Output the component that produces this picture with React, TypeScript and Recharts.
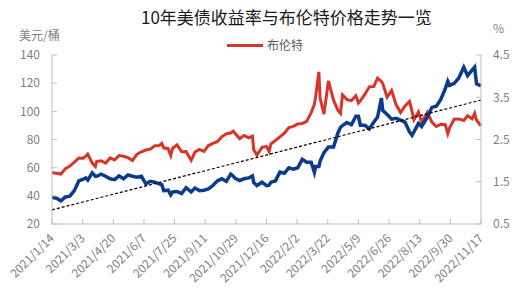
import React from 'react';
import { LineChart, Line, XAxis, YAxis } from 'recharts';

// 日期 / 布伦特(美元/桶) / 10年美债收益率(%)
const dates = [
  '2021-01-14', '2021-01-21', '2021-01-28', '2021-02-04', '2021-02-11', '2021-02-18', '2021-02-25',
  '2021-03-04', '2021-03-08', '2021-03-11', '2021-03-18', '2021-03-23', '2021-03-25', '2021-04-01',
  '2021-04-08', '2021-04-15', '2021-04-22', '2021-04-29', '2021-05-06', '2021-05-13', '2021-05-20',
  '2021-05-27', '2021-06-03', '2021-06-10', '2021-06-17', '2021-06-24', '2021-07-01', '2021-07-05',
  '2021-07-08', '2021-07-15', '2021-07-19', '2021-07-22', '2021-07-29', '2021-08-05', '2021-08-12',
  '2021-08-20', '2021-08-26', '2021-09-02', '2021-09-09', '2021-09-16', '2021-09-23', '2021-09-30',
  '2021-10-07', '2021-10-14', '2021-10-21', '2021-10-25', '2021-10-28', '2021-11-04', '2021-11-11',
  '2021-11-18', '2021-11-24', '2021-11-26', '2021-12-01', '2021-12-09', '2021-12-16', '2021-12-20',
  '2021-12-23', '2021-12-30', '2022-01-06', '2022-01-13', '2022-01-20', '2022-01-27', '2022-02-03',
  '2022-02-10', '2022-02-17', '2022-02-24', '2022-03-01', '2022-03-03', '2022-03-08', '2022-03-10',
  '2022-03-16', '2022-03-23', '2022-03-31', '2022-04-07', '2022-04-11', '2022-04-14', '2022-04-21',
  '2022-04-28', '2022-05-05', '2022-05-09', '2022-05-12', '2022-05-19', '2022-05-26', '2022-06-02',
  '2022-06-08', '2022-06-14', '2022-06-16', '2022-06-23', '2022-06-30', '2022-07-07', '2022-07-14',
  '2022-07-21', '2022-07-28', '2022-08-01', '2022-08-04', '2022-08-11', '2022-08-16', '2022-08-25',
  '2022-09-01', '2022-09-08', '2022-09-15', '2022-09-22', '2022-09-26', '2022-09-29', '2022-10-06',
  '2022-10-13', '2022-10-21', '2022-10-27', '2022-11-03', '2022-11-07', '2022-11-10', '2022-11-17',
];

const brent = [
  56.4, 56.1, 55.5, 59.3, 61.1, 63.9, 66.9,
  66.7, 68.2, 69.6, 63.3, 60.8, 64.4, 64.9,
  63.2, 66.9, 65.4, 68.6, 68.1, 67.1, 65.1,
  69.5, 71.3, 72.5, 73.1, 75.6, 75.8, 77.2,
  74.1, 73.5, 68.6, 73.8, 76.1, 71.3, 71.4,
  65.2, 71.1, 73.0, 71.5, 75.7, 77.3, 78.5,
  81.9, 84.0, 84.6, 86.0, 84.3, 80.5, 82.9,
  81.2, 82.3, 72.7, 68.9, 74.4, 75.0, 71.5,
  76.9, 79.3, 81.9, 84.5, 88.4, 89.3, 91.1,
  91.4, 92.9, 99.1, 105.0, 110.5, 128.0, 109.3,
  98.0, 121.6, 107.9, 100.6, 98.5, 111.7, 108.3,
  107.6, 111.0, 105.9, 107.5, 112.0, 117.4, 117.6,
  123.6, 121.2, 119.8, 110.1, 114.8, 104.7, 99.1,
  103.9, 107.1, 100.0, 94.1, 99.6, 92.3, 99.3,
  92.4, 89.2, 90.8, 90.5, 84.1, 88.5, 94.4,
  94.6, 93.5, 96.9, 94.7, 98.6, 93.7, 89.8,
];

const yields = [
  1.13, 1.11, 1.05, 1.14, 1.16, 1.29, 1.52,
  1.56, 1.59, 1.54, 1.71, 1.63, 1.63, 1.68,
  1.63, 1.57, 1.55, 1.64, 1.57, 1.66, 1.63,
  1.61, 1.63, 1.45, 1.51, 1.49, 1.45, 1.43,
  1.29, 1.30, 1.19, 1.26, 1.27, 1.22, 1.36,
  1.26, 1.35, 1.29, 1.30, 1.33, 1.41, 1.52,
  1.57, 1.51, 1.68, 1.63, 1.58, 1.53, 1.57,
  1.59, 1.64, 1.48, 1.41, 1.49, 1.41, 1.42,
  1.49, 1.52, 1.73, 1.70, 1.83, 1.80, 1.83,
  2.03, 1.96, 1.96, 1.72, 1.86, 1.86, 1.99,
  2.19, 2.32, 2.32, 2.66, 2.79, 2.83, 2.90,
  2.85, 3.05, 3.05, 2.84, 2.84, 2.75, 2.91,
  3.03, 3.48, 3.19, 3.09, 2.98, 3.00, 2.96,
  2.91, 2.68, 2.60, 2.68, 2.88, 2.81, 3.03,
  3.26, 3.29, 3.45, 3.70, 3.88, 3.78, 3.83,
  3.95, 4.21, 4.01, 4.14, 4.21, 3.82, 3.77,
];

// 虚线趋势
const trendDates = ['2021-01-14', '2022-11-17'];
const trendValues = [30, 108];

const tickLabels = [
  '2021/1/14', '2021/3/3', '2021/4/20', '2021/6/7', '2021/7/25', '2021/9/11', '2021/10/29',
  '2021/12/16', '2022/2/2', '2022/3/22', '2022/5/9', '2022/6/26', '2022/8/13', '2022/9/30', '2022/11/17',
];

const leftTicks = [20, 40, 60, 80, 100, 120, 140];
const rightTicks = [0.5, 1.5, 2.5, 3.5, 4.5];

const toDay = (s: string) => {
  const [y, m, d] = s.split(/[-/]/).map(Number);
  return Math.round((Date.UTC(y, m - 1, d) - Date.UTC(2021, 0, 14)) / 86400000);
};

const data = dates.map((d, i) => ({ day: toDay(d), brent: brent[i], yield: yields[i] }));
const trendData = trendDates.map((d, i) => ({ day: toDay(d), trend: trendValues[i] }));
const xTicks = tickLabels.map(toDay);
const labelByDay: Record<number, string> = {};
tickLabels.forEach((l) => { labelByDay[toDay(l)] = l; });

const FONT = '"Noto Sans CJK SC", "Noto Sans", sans-serif';
const GRAY = '#7f7f7f';
const AXIS = '#bfbfbf';

const DateTick = (props: any) => {
  const { x, y, payload } = props;
  return (
    <g transform={`translate(${x + 3},${y})`}>
      <text textAnchor="end" transform="rotate(-45)" fill={GRAY} fontSize={12} fontFamily={FONT}>
        {labelByDay[payload.value]}
      </text>
    </g>
  );
};

export default function App() {
  return (
    <div style={{ position: 'absolute', left: 0, top: 0, width: 522, height: 294, background: '#fff', fontFamily: FONT }}>
      <div style={{ position: 'absolute', left: 141, top: 8, fontSize: 17, lineHeight: 1, color: '#1a1a1a', whiteSpace: 'nowrap' }}>
        10年美债收益率与布伦特价格走势一览
      </div>
      <div style={{ position: 'absolute', left: 19, top: 29, fontSize: 12, lineHeight: 1, color: GRAY }}>美元/桶</div>
      <div style={{ position: 'absolute', left: 493, top: 22, fontSize: 12, lineHeight: 1, color: GRAY }}>%</div>
      <div style={{ position: 'absolute', left: 227, top: 44, width: 36, height: 3, background: '#d7342a' }} />
      <div style={{ position: 'absolute', left: 267, top: 39, fontSize: 12, lineHeight: 1, color: '#595959' }}>布伦特</div>

      <LineChart width={522} height={294} data={data} margin={{ top: 55, right: 0, bottom: 0, left: 0 }}>
        <XAxis
          dataKey="day"
          type="number"
          domain={[0, 672]}
          ticks={xTicks}
          interval={0}
          height={70}
          stroke={AXIS}
          tickSize={-5}
          tickMargin={20}
          tick={<DateTick />}
        />
        <YAxis
          yAxisId="left"
          domain={[20, 140]}
          ticks={leftTicks}
          interval={0}
          width={52}
          stroke={AXIS}
          tickSize={-5}
          tickMargin={17}
          tick={{ fill: GRAY, fontSize: 12, fontFamily: FONT }}
        />
        <YAxis
          yAxisId="right"
          orientation="right"
          domain={[0.5, 4.5]}
          ticks={rightTicks}
          interval={0}
          width={41}
          stroke={AXIS}
          tickSize={-5}
          tickMargin={17}
          tick={{ fill: GRAY, fontSize: 12, fontFamily: FONT }}
        />
        <Line
          yAxisId="left"
          dataKey="brent"
          type="linear"
          stroke="#d7342a"
          strokeWidth={3}
          dot={false}
          isAnimationActive={false}
        />
        <Line
          yAxisId="right"
          dataKey="yield"
          type="linear"
          stroke="#0c3b8e"
          strokeWidth={3.5}
          dot={false}
          isAnimationActive={false}
        />
        <Line
          yAxisId="left"
          data={trendData}
          dataKey="trend"
          type="linear"
          stroke="#000"
          strokeWidth={1.2}
          strokeDasharray="3 2"
          dot={false}
          isAnimationActive={false}
        />
      </LineChart>
    </div>
  );
}
